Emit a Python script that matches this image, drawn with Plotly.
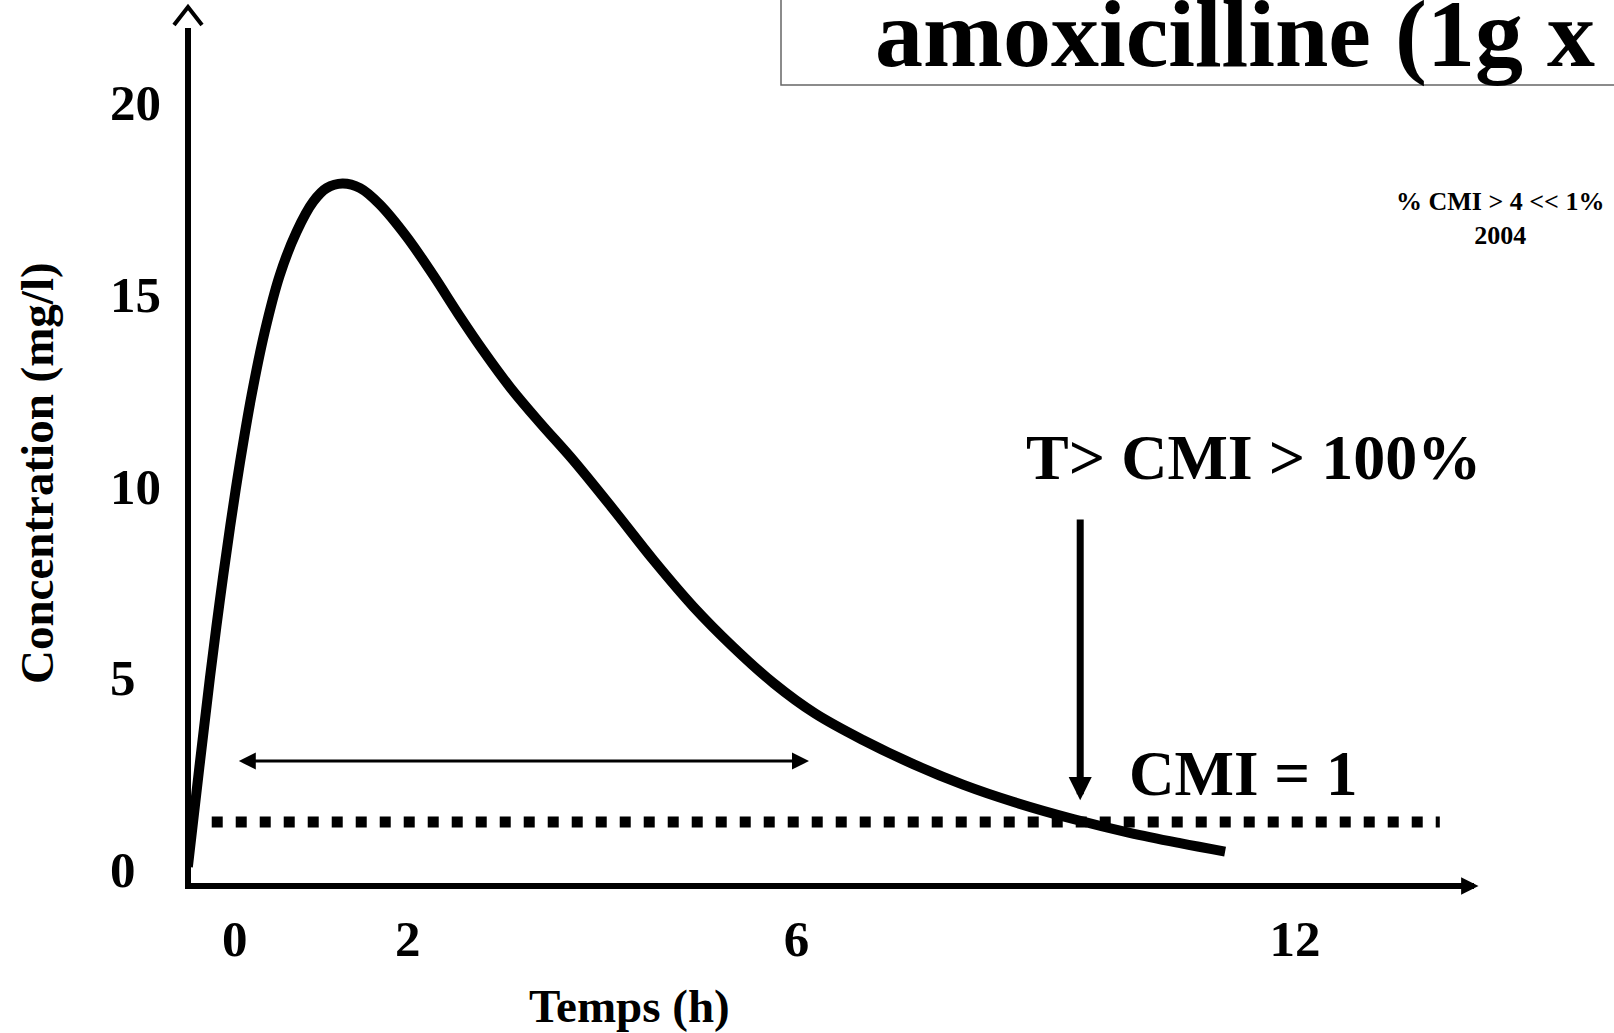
import plotly.graph_objects as go

# ---------------- data ----------------
time_h = [-0.53, -0.40, -0.28, -0.17, -0.05, 0.06, 0.19, 0.34, 0.51, 0.70, 0.89, 1.04,
          1.22, 1.42, 1.64, 1.95, 2.25, 2.53, 2.81, 3.12, 3.46, 3.83, 4.29, 4.74,
          5.19, 5.64, 6.10, 6.57, 7.11, 7.68, 8.25, 8.81, 9.49, 10.13, 10.70, 11.21]
conc_mg_l = [0.08, 2.68, 5.02, 7.00, 8.98, 10.63, 12.37, 14.04, 15.51, 16.64, 17.43, 17.78,
             17.90, 17.78, 17.36, 16.50, 15.50, 14.50, 13.55, 12.58, 11.65, 10.69, 9.39, 8.08,
             6.87, 5.82, 4.87, 4.08, 3.39, 2.76, 2.22, 1.78, 1.33, 0.97, 0.70, 0.48]

cmi_x = [-0.26, 13.64]
cmi_level = [1.25, 1.25]

x_tick_vals = [0, 1.96, 6.36, 12]
x_tick_text = ["0", "2", "6", "12"]
y_tick_vals = [0, 5, 10, 15, 20]
y_tick_text = ["0", "5", "10", "15", "20"]

span_start, span_end, span_level = 0.03, 6.50, 2.84      # double-headed arrow
tcmi_x, tcmi_top, tcmi_tip = 9.57, 9.18, 1.82            # downward arrow

title_text = "amoxicilline (1g x"
x_title = "Temps (h)"
y_title = "Concentration (mg/l)"
tcmi_text = "T&gt; CMI &gt; 100%"
cmi_text = "CMI = 1"
note_text = "% CMI &gt; 4 &lt;&lt; 1%<br>2004"

# ---------------- layout geometry ----------------
W, H = 1614, 1033
L, R, T, B = 191, 1470, 28, 883
X0PX, XPPU = 234.7, 88.35     # pixel of t=0, pixels per hour
Y0PX, YPPU = 870.0, 38.35     # pixel of c=0, pixels per mg/l

xrange = [(L - X0PX) / XPPU, (R - X0PX) / XPPU]
yrange = [(Y0PX - B) / YPPU, (Y0PX - T) / YPPU]


def px(x):
    return (x - L) / (R - L)


def py(y):
    return (B - y) / (B - T)


FONT = "Liberation Serif, Times New Roman, serif"


def bfont(size):
    return dict(family=FONT, size=size, color="black", weight="bold")


fig = go.Figure()

fig.add_trace(go.Scatter(
    x=cmi_x, y=cmi_level, mode="lines",
    line=dict(color="black", width=11, dash="11px,13px"),
    hoverinfo="skip", showlegend=False))

fig.add_trace(go.Scatter(
    x=time_h, y=conc_mg_l, mode="lines",
    line=dict(color="black", width=10, shape="spline", smoothing=1.0),
    showlegend=False))

annotations = []

# y tick labels (left aligned as in the slide)
for v, t in zip(y_tick_vals, y_tick_text):
    annotations.append(dict(xref="paper", yref="y", x=px(108), y=v, text=t,
                            xanchor="left", yanchor="middle", showarrow=False,
                            font=bfont(51)))

# axis titles
annotations.append(dict(xref="paper", yref="paper", x=px(629), y=py(1006), text=x_title,
                        showarrow=False, xanchor="center", yanchor="middle", font=bfont(47)))
annotations.append(dict(xref="paper", yref="paper", x=px(37), y=py(473), text=y_title,
                        showarrow=False, xanchor="center", yanchor="middle", textangle=-90,
                        font=bfont(47)))

# texts
annotations.append(dict(xref="paper", yref="paper", x=px(873), y=py(33), text=title_text,
                        showarrow=False, xanchor="left", yanchor="middle", font=bfont(96)))
annotations.append(dict(xref="paper", yref="paper", x=px(1253), y=py(457), text=tcmi_text,
                        showarrow=False, xanchor="center", yanchor="middle", font=bfont(64)))
annotations.append(dict(xref="paper", yref="paper", x=px(1243), y=py(774), text=cmi_text,
                        showarrow=False, xanchor="center", yanchor="middle", font=bfont(63)))
annotations.append(dict(xref="paper", yref="paper", x=px(1500), y=py(219), text=note_text,
                        showarrow=False, xanchor="center", yanchor="middle", font=bfont(26)))

# arrows
annotations.append(dict(xref="x", yref="y", axref="x", ayref="y",
                        x=span_end, y=span_level, ax=span_start, ay=span_level,
                        text="", showarrow=True, arrowside="end+start",
                        arrowhead=2, startarrowhead=2, arrowwidth=3,
                        arrowsize=1.13, startarrowsize=1.13, arrowcolor="black"))
annotations.append(dict(xref="x", yref="y", axref="x", ayref="y",
                        x=tcmi_x, y=tcmi_tip, ax=tcmi_x, ay=tcmi_top,
                        text="", showarrow=True, arrowhead=2, arrowwidth=7,
                        arrowsize=0.66, arrowcolor="black"))
# x-axis arrow head
annotations.append(dict(xref="paper", yref="paper", x=px(1478.5), y=py(886),
                        ax=-14, ay=0, text="", showarrow=True, arrowhead=2,
                        arrowwidth=6, arrowsize=0.58, arrowcolor="black"))

shapes = [
    # y-axis open chevron
    dict(type="path", xref="paper", yref="paper",
         path=f"M {px(174)},{py(25)} L {px(188)},{py(7)} L {px(202)},{py(25)}",
         line=dict(color="black", width=4)),
    # title box
    dict(type="rect", xref="paper", yref="paper",
         x0=px(781), x1=px(1640), y0=py(85), y1=py(-20),
         line=dict(color="#666666", width=1.5), fillcolor="rgba(0,0,0,0)"),
]

fig.update_layout(
    width=W, height=H, autosize=False,
    margin=dict(l=L, r=W - R, t=T, b=H - B, pad=0),
    paper_bgcolor="white", plot_bgcolor="white",
    showlegend=False,
    annotations=annotations, shapes=shapes,
    xaxis=dict(range=xrange, showline=True, linewidth=6, linecolor="black",
               showgrid=False, zeroline=False, ticks="",
               tickvals=x_tick_vals, ticktext=x_tick_text,
               tickfont=bfont(51), ticklabelstandoff=6, automargin=False,
               fixedrange=True),
    yaxis=dict(range=yrange, showline=True, linewidth=6, linecolor="black",
               showgrid=False, zeroline=False, ticks="", showticklabels=False,
               automargin=False, fixedrange=True),
)

fig.write_html("out.html", config={"displayModeBar": False},
               post_script="document.body.style.margin='0';document.body.style.overflow='hidden';")
